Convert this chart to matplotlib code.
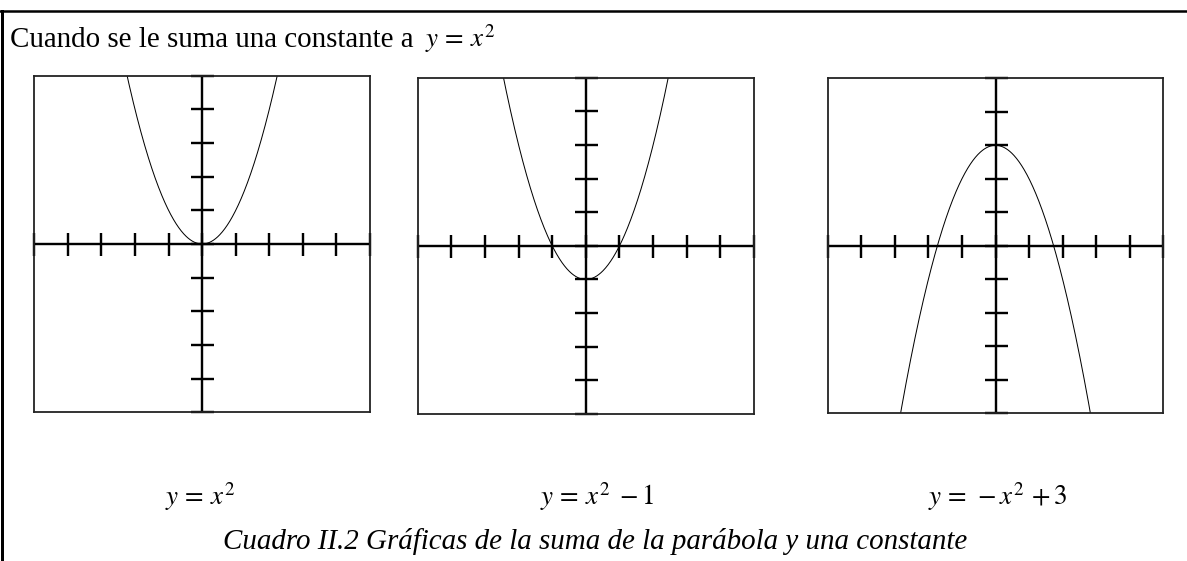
import numpy as np
import matplotlib
matplotlib.use("Agg")
import matplotlib.pyplot as plt

# ---- data ----
leading = [1, 1, -1]          # coefficient of x^2 in each panel
constants = [0, -1, 3]        # added constant in each panel
labels = [r"$y\,=\,x^{2}$", r"$y\,=\,x^{2}\;-1$", r"$y\,=\,-x^{2}\,+3$"]
tick_vals = [-5, -4, -3, -2, -1, 0, 1, 2, 3, 4, 5]
x_range = [-5, 5]
y_range = [-5, 5]
title_text = "Cuando se le suma una constante a"
title_math = r"$y\,=\,x^{2}$"
caption = "Cuadro II.2 Gráficas de la suma de la parábola y una constante"

W, H = 1187, 561
DPI = 72
plt.rcParams["mathtext.fontset"] = "stix"
plt.rcParams["font.family"] = ["Liberation Serif", "DejaVu Serif"]

fig = plt.figure(figsize=(W / DPI, H / DPI), dpi=DPI)

def px_axes(left, right, top, bottom):
    return fig.add_axes([left / W, 1 - bottom / H, (right - left) / W, (bottom - top) / H])

# panel boxes in pixel coordinates (left, right, top, bottom)
boxes = [(34.3, 370.0, 75.7, 412.3),
         (417.7, 754.0, 77.7, 414.0),
         (827.7, 1163.3, 78.3, 413.3)]
label_x = [165, 540, 928]

xs = np.linspace(x_range[0], x_range[1], 801)
for i, (l, r, t, b) in enumerate(boxes):
    ax = px_axes(l, r, t, b)
    ax.set_xlim(*x_range)
    ax.set_ylim(*y_range)
    ax.set_xticks([])
    ax.set_yticks([])
    for s in ax.spines.values():
        s.set_linewidth(1.8)
        s.set_color("#222222")
    ax.axhline(0, color="black", lw=2.4)
    ax.axvline(0, color="black", lw=2.4)
    ax.plot(tick_vals, [0] * len(tick_vals), ls="none", marker="|",
            ms=23, mew=2.4, color="black", clip_on=False)
    ax.plot([0] * len(tick_vals), tick_vals, ls="none", marker="_",
            ms=23, mew=2.4, color="black", clip_on=False)
    ax.plot(xs, leading[i] * xs ** 2 + constants[i], color="black", lw=1.0)
    fig.text(label_x[i] / W, 1 - 505 / H, labels[i], fontsize=27,
             ha="left", va="baseline")

# title
fig.text(10 / W, 1 - 47 / H, title_text, fontsize=29, ha="left", va="baseline")
fig.text(425 / W, 1 - 47 / H, title_math, fontsize=27, ha="left", va="baseline")

# caption
fig.text(595 / W, 1 - 549 / H, caption, fontsize=29, style="italic",
         ha="center", va="baseline")

# outer frame lines
fig.add_artist(plt.Line2D([1.5 / W, 1.5 / W], [0, 1 - 11 / H], color="black",
                          lw=3, transform=fig.transFigure))
fig.add_artist(plt.Line2D([0, 1], [1 - 11 / H, 1 - 11 / H], color="black",
                          lw=2.5, transform=fig.transFigure))

fig.savefig("out.png", dpi=DPI)
